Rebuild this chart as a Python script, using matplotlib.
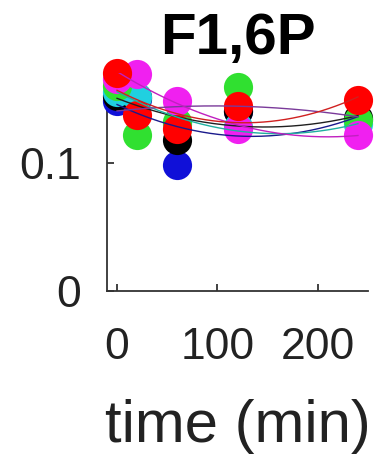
import numpy as np
import matplotlib
matplotlib.use('Agg')
from matplotlib import pyplot as plt

plt.rcParams['font.family'] = ['Liberation Sans', 'DejaVu Sans']

# time points (min) and F1,6P level for each replicate
time = [0, 20, 60, 120, 240]
blue = [0.148, 0.150, 0.098, 0.140, 0.133]
black = [0.152, 0.151, 0.118, 0.140, 0.135]
cyan = [0.155, 0.151, 0.130, 0.128, 0.130]
green = [0.160, 0.122, 0.132, 0.159, 0.133]
magenta = [0.165, 0.169, 0.148, 0.126, 0.122]
red = [0.170, 0.1375, 0.126, 0.144, 0.149]

series = [(blue, '#1010d8', '#1a1a8c'),
          (black, 'black', '#202020'),
          (cyan, '#20d0e0', '#20b0a0'),
          (green, '#30e030', '#7a3a9a'),
          (magenta, '#f020f0', '#c020c0'),
          (red, '#ff0000', '#d02020')]

fig = plt.figure(figsize=(3.75, 4.61), dpi=100)
ax = fig.add_axes([107 / 375, 1 - 291 / 461, 261 / 375, 218 / 461])

t = np.array(time)
tt = np.linspace(0, 240, 200)
for vals, mc, lc in series:
    ax.plot(t, vals, 'o', color=mc, ms=21, mec='none', clip_on=False, zorder=3)
# smooth fitted curve per replicate
for vals, mc, lc in series:
    p = np.polyfit(t, vals, 2)
    ax.plot(tt, np.polyval(p, tt), '-', color=lc, lw=1, zorder=4)

ax.set_xlim(-10, 250)
ax.set_ylim(0, 0.17)
ax.set_xticks([0, 100, 200])
ax.set_yticks([0, 0.1])
ax.set_yticklabels(['0', '0.1'])
for s in ['top', 'right']:
    ax.spines[s].set_visible(False)
for s in ['left', 'bottom']:
    ax.spines[s].set_linewidth(1.3)
    ax.spines[s].set_color('#333333')
ax.tick_params(direction='in', length=5, width=1.3, labelsize=32, colors='#333333')
ax.tick_params(axis='x', pad=26)
ax.tick_params(axis='y', pad=19)
for lab in ax.get_xticklabels() + ax.get_yticklabels():
    lab.set_color('#222222')

ax.set_xlabel('time (min)', fontsize=43, color='#222222', labelpad=22)
ax.set_title('F1,6P', fontsize=42, fontweight='bold', pad=14)

fig.savefig('out.png', dpi=100)
